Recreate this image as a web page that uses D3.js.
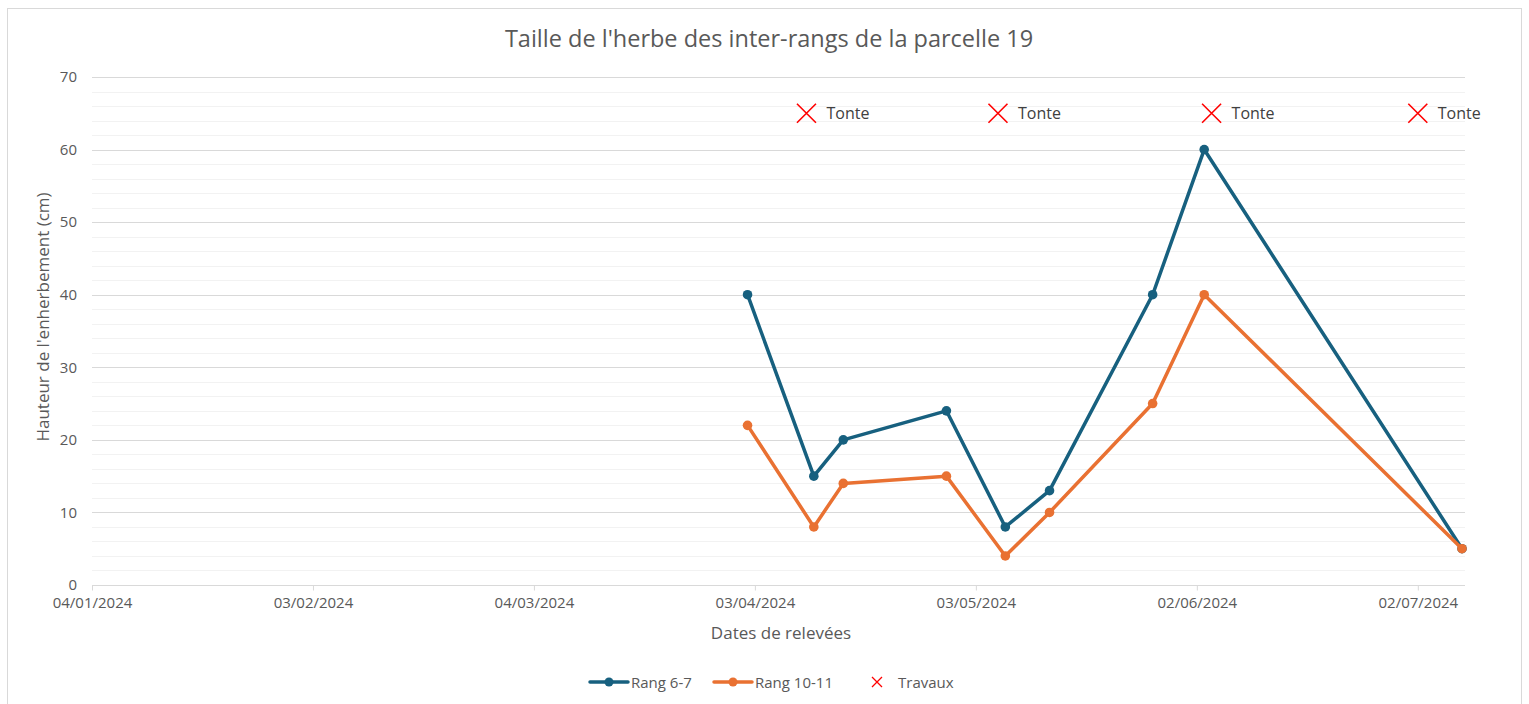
<!DOCTYPE html>
<html>
<head>
<meta charset="utf-8">
<script src="https://cdn.jsdelivr.net/npm/d3@7"></script>
<style>
  body { margin: 0; background: #fff; }
  text { font-family: "Open Sans", "Liberation Sans", sans-serif; }
</style>
</head>
<body>
<div class="board"></div>
<script>
/*
=================================
DATA
=================================
*/
var parseDate = d3.timeParse('%d/%m/%Y');

var releveDates = ['02/04/2024', '11/04/2024', '15/04/2024', '29/04/2024', '07/05/2024',
                   '13/05/2024', '27/05/2024', '03/06/2024', '08/07/2024'];
var rang67 = [40, 15, 20, 24, 8, 13, 40, 60, 5];
var rang1011 = [22, 8, 14, 15, 4, 10, 25, 40, 5];

var travauxDates = ['10/04/2024', '06/05/2024', '04/06/2024', '02/07/2024'];
var travauxValue = [65, 65, 65, 65];
var travauxLabel = ['Tonte', 'Tonte', 'Tonte', 'Tonte'];

var tickDates = ['04/01/2024', '03/02/2024', '04/03/2024', '03/04/2024',
                 '03/05/2024', '02/06/2024', '02/07/2024'];
var yTicks = [0, 10, 20, 30, 40, 50, 60, 70];

var seriesNames = ['Rang 6-7', 'Rang 10-11', 'Travaux'];
var blue = '#17607f';
var orange = '#e97132';
var red = '#ff0000';

/*
=================================
CONTAINER
=================================
*/
var W = 1529, H = 704;
var svg = d3.select('.board').append('svg')
            .attr('width', W)
            .attr('height', H);

svg.append('rect')
   .attr('x', 7.5).attr('y', 8.5)
   .attr('width', 1514).attr('height', 720)
   .attr('fill', '#fff')
   .attr('stroke', '#d9d9d9');

var x = d3.scaleTime()
          .domain([parseDate('04/01/2024'), parseDate('08/07/2024')])
          .range([92, 1462]);

var y = d3.scaleLinear()
          .domain([0, 70])
          .range([585, 77]);

var gridEnd = 1465;

// minor gridlines every 2
var minor = d3.range(2, 70, 2).filter(v => v % 10 !== 0);
svg.append('g').selectAll('line')
   .data(minor).enter().append('line')
   .attr('x1', 92).attr('x2', gridEnd)
   .attr('y1', d => Math.round(y(d)) + 0.5)
   .attr('y2', d => Math.round(y(d)) + 0.5)
   .attr('stroke', '#f2f2f2');

// major gridlines
svg.append('g').selectAll('line')
   .data(yTicks.filter(v => v > 0)).enter().append('line')
   .attr('x1', 92).attr('x2', gridEnd)
   .attr('y1', d => Math.round(y(d)) + 0.5)
   .attr('y2', d => Math.round(y(d)) + 0.5)
   .attr('stroke', '#d9d9d9');

// y axis labels
var yAxis = svg.append('g')
   .attr('transform', 'translate(92,0)')
   .call(d3.axisLeft(y).tickValues(yTicks).tickSize(0).tickPadding(15));
yAxis.select('.domain').remove();
yAxis.selectAll('text')
     .attr('fill', '#595959')
     .style('font-size', '15px');

// x axis
var xAxis = svg.append('g')
   .attr('transform', 'translate(0,' + (Math.round(y(0)) + 0.5) + ')')
   .call(d3.axisBottom(x)
           .tickValues(tickDates.map(parseDate))
           .tickFormat(d3.timeFormat('%d/%m/%Y'))
           .tickSize(5)
           .tickPadding(7));
xAxis.select('.domain')
     .attr('d', 'M92,0H' + gridEnd)
     .attr('stroke', '#d9d9d9');
xAxis.selectAll('.tick line').attr('stroke', '#d9d9d9');
xAxis.selectAll('text')
     .attr('fill', '#595959')
     .style('font-size', '15px');

/*
=================================
SERIES
=================================
*/
var line = d3.line()
             .x(d => x(d.date))
             .y(d => y(d.v));

var drawSeries = function(values, color) {
  var pts = releveDates.map((d, i) => ({date: parseDate(d), v: values[i]}));
  svg.append('path')
     .datum(pts)
     .attr('d', line)
     .attr('fill', 'none')
     .attr('stroke', color)
     .attr('stroke-width', 3.5)
     .attr('stroke-linejoin', 'round');
  svg.append('g').selectAll('circle')
     .data(pts).enter().append('circle')
     .attr('cx', d => x(d.date))
     .attr('cy', d => y(d.v))
     .attr('r', 4.8)
     .attr('fill', color);
};

drawSeries(rang67, blue);
drawSeries(rang1011, orange);

// travaux markers
var trav = travauxDates.map((d, i) => ({date: parseDate(d), v: travauxValue[i], label: travauxLabel[i]}));
var tg = svg.append('g').selectAll('g')
   .data(trav).enter().append('g')
   .attr('transform', d => 'translate(' + x(d.date) + ',' + y(d.v) + ')');
tg.append('path')
  .attr('d', 'M-9.5,-9.5L9.5,9.5M-9.5,9.5L9.5,-9.5')
  .attr('stroke', red)
  .attr('stroke-width', 1.6);
tg.append('text')
  .attr('x', 20).attr('y', 5.5)
  .attr('fill', '#404040')
  .style('font-size', '16px')
  .text(d => d.label);

/*
=================================
TITLES
=================================
*/
svg.append('text')
   .attr('x', 769).attr('y', 47)
   .attr('text-anchor', 'middle')
   .attr('fill', '#595959')
   .style('font-size', '23.5px')
   .text("Taille de l'herbe des inter-rangs de la parcelle 19");

svg.append('text')
   .attr('x', 781).attr('y', 639)
   .attr('text-anchor', 'middle')
   .attr('fill', '#595959')
   .style('font-size', '17px')
   .text('Dates de relevées');

svg.append('text')
   .attr('transform', 'translate(49,317) rotate(-90)')
   .attr('text-anchor', 'middle')
   .attr('fill', '#595959')
   .style('font-size', '17px')
   .text("Hauteur de l'enherbement (cm)");

/*
=================================
LEGEND
=================================
*/
var legY = 682;
var leg = svg.append('g');
var legItems = [
  {name: seriesNames[0], color: blue, x0: 590, type: 'line'},
  {name: seriesNames[1], color: orange, x0: 714, type: 'line'},
  {name: seriesNames[2], color: red, x0: 870, type: 'x'}
];
legItems.forEach(function(it) {
  if (it.type === 'line') {
    leg.append('line')
       .attr('x1', it.x0).attr('x2', it.x0 + 38)
       .attr('y1', legY).attr('y2', legY)
       .attr('stroke', it.color).attr('stroke-width', 3.5)
       .attr('stroke-linecap', 'round');
    leg.append('circle')
       .attr('cx', it.x0 + 19).attr('cy', legY).attr('r', 4.5)
       .attr('fill', it.color);
    leg.append('text')
       .attr('x', it.x0 + 41).attr('y', legY + 5.5)
       .attr('fill', '#595959')
       .style('font-size', '15px')
       .text(it.name);
  } else {
    leg.append('path')
       .attr('d', 'M' + (it.x0 + 2) + ',' + (legY - 5) + 'l10,10m-10,0l10,-10')
       .attr('stroke', it.color).attr('stroke-width', 1.3);
    leg.append('text')
       .attr('x', it.x0 + 28).attr('y', legY + 5.5)
       .attr('fill', '#595959')
       .style('font-size', '15px')
       .text(it.name);
  }
});
</script>
</body>
</html>
